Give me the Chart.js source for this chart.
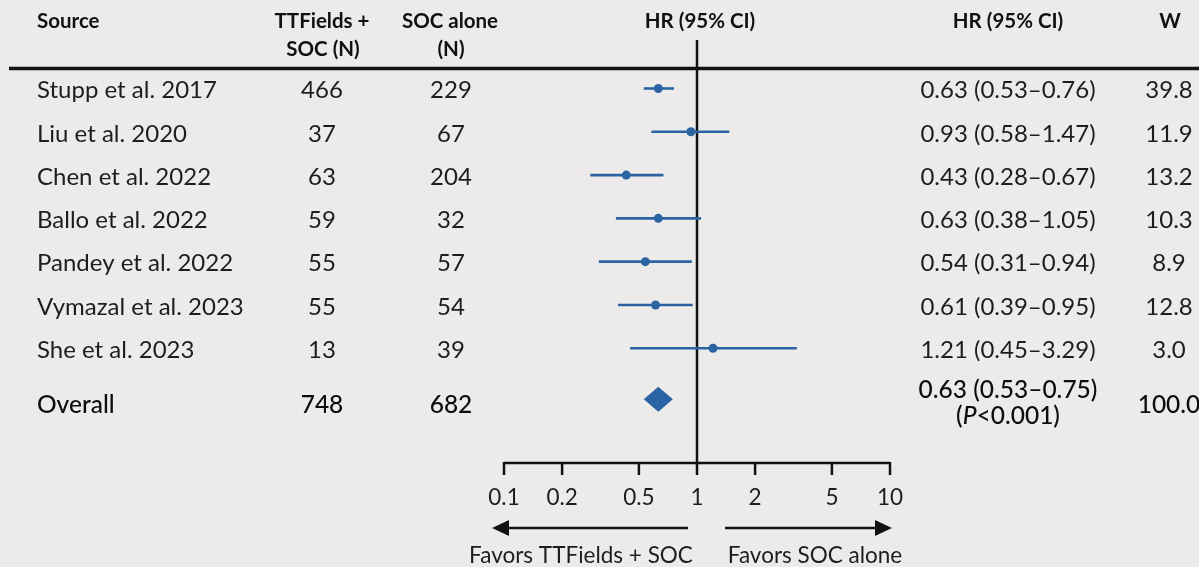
<!DOCTYPE html>
<html>
<head>
<meta charset="utf-8">
<title>TTFields + SOC vs SOC alone – forest plot</title>
<script src="https://cdn.jsdelivr.net/npm/chart.js@4/dist/chart.umd.min.js"></script>
<style>
  html, body { margin: 0; padding: 0; background: #ecebe9; }
  #wrap { position: relative; width: 1199px; height: 567px; }
</style>
</head>
<body>
<div id="wrap"><canvas id="forest"></canvas></div>
<script>
// ---- Study data ----
const studies   = ['Stupp et al. 2017', 'Liu et al. 2020', 'Chen et al. 2022', 'Ballo et al. 2022',
                   'Pandey et al. 2022', 'Vymazal et al. 2023', 'She et al. 2023'];
const nTreat    = [466, 37, 63, 59, 55, 55, 13];
const nSoc      = [229, 67, 204, 32, 57, 54, 39];
const hr        = [0.63, 0.93, 0.43, 0.63, 0.54, 0.61, 1.21];
const ciLow     = [0.53, 0.58, 0.28, 0.38, 0.31, 0.39, 0.45];
const ciHigh    = [0.76, 1.47, 0.67, 1.05, 0.94, 0.95, 3.29];
const weights   = ['39.8', '11.9', '13.2', '10.3', '8.9', '12.8', '3.0'];

// ---- Pooled estimate ----
const overallLabel  = 'Overall';
const overallN      = [748, 682];
const overallHR     = [0.63, 0.53, 0.75];   // estimate, lower, upper
const overallWeight = '100.0';
const overallP      = '<0.001';

// ---- Axis ----
const xTicks       = [0.1, 0.2, 0.5, 1, 2, 5, 10];
const xTickLabels  = ['0.1', '0.2', '0.5', '1', '2', '5', '10'];
const favorLabels  = ['Favors TTFields + SOC', 'Favors SOC alone'];

// Row index used as the y value of each study; pooled row sits below them
const rowIndex   = studies.map((_, i) => i);
const overallRow = 7.18;

const BLUE = '#2a64a4';
const INK  = '#1d1d1d';
const FONT = 'Lato, "Open Sans", sans-serif';

// text column centres
const COL_N1 = 322, COL_N2 = 451, COL_HR = 1008, COL_W = 1169;

const fmt = v => v.toFixed(2);
const ciText = (h, l, u) => `${fmt(h)} (${fmt(l)}\u2013${fmt(u)})`;

const forestPlugin = {
  id: 'forest',
  beforeDatasetsDraw(chart) {
    const { ctx } = chart;
    const x = chart.scales.x, y = chart.scales.y;
    ctx.save();

    // header rule
    ctx.strokeStyle = '#111';
    ctx.lineWidth = 3.5;
    ctx.beginPath();
    ctx.moveTo(9, 68.5);
    ctx.lineTo(1199, 68.5);
    ctx.stroke();

    // line of no effect
    const x1 = x.getPixelForValue(1);
    const axisY = y.bottom;
    ctx.lineWidth = 2.5;
    ctx.beginPath();
    ctx.moveTo(x1, 40);
    ctx.lineTo(x1, axisY);
    ctx.stroke();

    // x axis line and ticks
    ctx.beginPath();
    ctx.moveTo(x.getPixelForValue(xTicks[0]), axisY);
    ctx.lineTo(x.getPixelForValue(xTicks[xTicks.length - 1]), axisY);
    ctx.stroke();
    xTicks.forEach(t => {
      const px = x.getPixelForValue(t);
      ctx.beginPath();
      ctx.moveTo(px, axisY - 1);
      ctx.lineTo(px, axisY + 12);
      ctx.stroke();
    });

    // confidence intervals
    ctx.strokeStyle = BLUE;
    ctx.lineWidth = 2.6;
    rowIndex.forEach(i => {
      const py = y.getPixelForValue(i);
      ctx.beginPath();
      ctx.moveTo(x.getPixelForValue(ciLow[i]), py);
      ctx.lineTo(x.getPixelForValue(ciHigh[i]), py);
      ctx.stroke();
    });

    // pooled diamond
    const oy = y.getPixelForValue(overallRow);
    ctx.fillStyle = BLUE;
    ctx.beginPath();
    ctx.moveTo(x.getPixelForValue(overallHR[1]), oy);
    ctx.lineTo(x.getPixelForValue(overallHR[0]), oy - 12.5);
    ctx.lineTo(x.getPixelForValue(overallHR[2]), oy);
    ctx.lineTo(x.getPixelForValue(overallHR[0]), oy + 12.5);
    ctx.closePath();
    ctx.fill();

    ctx.restore();
  },
  afterDraw(chart) {
    const { ctx } = chart;
    const x = chart.scales.x, y = chart.scales.y;
    ctx.save();
    ctx.textBaseline = 'middle';

    // column headers
    ctx.fillStyle = '#111';
    ctx.font = `bold 20.5px ${FONT}`;
    ctx.textAlign = 'left';
    ctx.fillText('Source', 37, 21);
    ctx.textAlign = 'center';
    ctx.fillText('TTFields +', COL_N1, 21);
    ctx.fillText('SOC (N)', COL_N1 + 1, 49);
    ctx.fillText('SOC alone', COL_N2 - 1, 21);
    ctx.fillText('(N)', COL_N2, 49);
    ctx.fillText('HR (95% CI)', 700, 21);
    ctx.fillText('HR (95% CI)', COL_HR, 21);
    ctx.fillText('W', 1170, 21);

    // study rows
    ctx.fillStyle = INK;
    ctx.font = `24px ${FONT}`;
    rowIndex.forEach(i => {
      const py = y.getPixelForValue(i) + 2;
      ctx.textAlign = 'left';
      ctx.fillText(studies[i], 37, py);
      ctx.textAlign = 'center';
      ctx.fillText(String(nTreat[i]), COL_N1, py);
      ctx.fillText(String(nSoc[i]), COL_N2, py);
      ctx.fillText(ciText(hr[i], ciLow[i], ciHigh[i]), COL_HR, py);
      ctx.fillText(weights[i], COL_W, py);
    });

    // pooled row
    const oy = y.getPixelForValue(overallRow) + 6;
    const oFont = `500 24.5px ${FONT}`;
    ctx.fillStyle = '#0d0d0d';
    ctx.font = oFont;
    ctx.textAlign = 'left';
    ctx.fillText(overallLabel, 37, oy);
    ctx.textAlign = 'center';
    ctx.fillText(String(overallN[0]), COL_N1, oy);
    ctx.fillText(String(overallN[1]), COL_N2, oy);
    ctx.fillText(overallWeight, COL_W, oy);
    ctx.fillText(ciText(overallHR[0], overallHR[1], overallHR[2]), COL_HR, oy - 15);
    // "(P<0.001)" with italic P
    const parts = [['(', oFont], ['P', `italic ${oFont}`], [overallP + ')', oFont]];
    let total = 0;
    parts.forEach(([t, f]) => { ctx.font = f; total += ctx.measureText(t).width; });
    let cx = COL_HR - total / 2;
    ctx.textAlign = 'left';
    parts.forEach(([t, f]) => { ctx.font = f; ctx.fillText(t, cx, oy + 11); cx += ctx.measureText(t).width; });

    // tick labels
    ctx.fillStyle = INK;
    ctx.font = `22.5px ${FONT}`;
    ctx.textAlign = 'center';
    xTicks.forEach((t, k) => ctx.fillText(xTickLabels[k], x.getPixelForValue(t), 498));

    // direction arrows
    const x1 = x.getPixelForValue(1);
    const arrowY = 528;
    ctx.strokeStyle = '#111';
    ctx.fillStyle = '#111';
    ctx.lineWidth = 2.5;
    const left = x.getPixelForValue(xTicks[0]) - 12;
    const right = x.getPixelForValue(xTicks[xTicks.length - 1]) + 2;
    ctx.beginPath();
    ctx.moveTo(x1 - 9, arrowY); ctx.lineTo(left + 14, arrowY); ctx.stroke();
    ctx.beginPath();
    ctx.moveTo(left, arrowY); ctx.lineTo(left + 17, arrowY - 8); ctx.lineTo(left + 17, arrowY + 8); ctx.closePath(); ctx.fill();
    ctx.beginPath();
    ctx.moveTo(x1 + 28, arrowY); ctx.lineTo(right - 14, arrowY); ctx.stroke();
    ctx.beginPath();
    ctx.moveTo(right, arrowY); ctx.lineTo(right - 17, arrowY - 8); ctx.lineTo(right - 17, arrowY + 8); ctx.closePath(); ctx.fill();

    ctx.fillStyle = INK;
    ctx.font = `22.5px ${FONT}`;
    ctx.textAlign = 'center';
    ctx.fillText(favorLabels[0], 581, 556);
    ctx.fillText(favorLabels[1], 815, 556);

    ctx.restore();
  }
};

new Chart(document.getElementById('forest'), {
  type: 'scatter',
  data: {
    datasets: [{
      data: rowIndex.map(i => ({ x: hr[i], y: i })),
      backgroundColor: BLUE,
      borderColor: BLUE,
      pointRadius: 4.5,
      pointHoverRadius: 4.5,
      borderWidth: 0,
      clip: false
    }]
  },
  options: {
    responsive: true,
    maintainAspectRatio: false,
    animation: false,
    events: [],
    layout: { padding: { left: 504, right: 309, top: 69, bottom: 104 } },
    plugins: { legend: { display: false }, tooltip: { enabled: false } },
    scales: {
      x: { type: 'logarithmic', min: 0.1, max: 10, display: false },
      y: { type: 'linear', min: -0.45, max: 8.65, reverse: true, display: false }
    }
  },
  plugins: [forestPlugin]
});
</script>
</body>
</html>
